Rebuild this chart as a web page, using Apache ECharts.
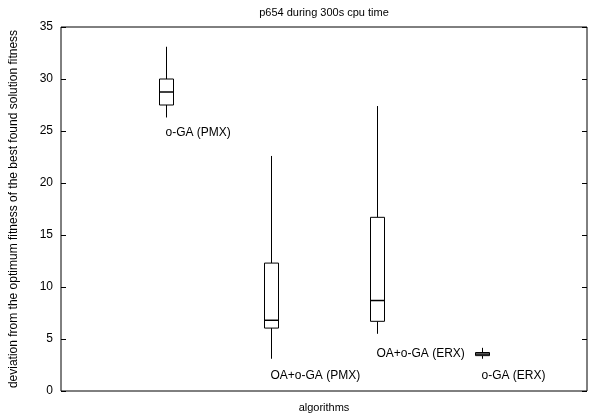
<!DOCTYPE html>
<html>
<head>
<meta charset="utf-8">
<script src="https://cdn.jsdelivr.net/npm/echarts@6/dist/echarts.min.js"></script>
<style>
html,body{margin:0;padding:0;background:#fff;}
#main{width:589px;height:418px;}
</style>
</head>
<body>
<div id="main"></div>
<script>
// algorithms and their box statistics
var names = ['o-GA (PMX)', 'OA+o-GA (PMX)', 'OA+o-GA (ERX)', 'o-GA (ERX)'];
var xpos = [1, 2, 3, 4];
var lowV = [26.3, 3.1, 5.5, 3.1];
var q1V = [27.5, 6.05, 6.7, 3.4];
var medV = [28.75, 6.8, 8.7, 3.55];
var q3V = [30.0, 12.3, 16.7, 3.7];
var highV = [33.1, 22.6, 27.4, 4.15];
// label anchors (data units)
var labelY = [24.85, 1.5, 3.55, 1.45];
var yTicks = [0, 5, 10, 15, 20, 25, 30, 35];

var font = 'Liberation Sans, Arial, sans-serif';
var boxData = [];
for (var i = 0; i < names.length; i++) {
	boxData.push([xpos[i], lowV[i], q1V[i], medV[i], q3V[i], highV[i], labelY[i]]);
}

function renderBox(params, api) {
	var x = api.value(0);
	var pLow = api.coord([x, api.value(1)]);
	var pQ1 = api.coord([x, api.value(2)]);
	var pMed = api.coord([x, api.value(3)]);
	var pQ3 = api.coord([x, api.value(4)]);
	var pHigh = api.coord([x, api.value(5)]);
	var pLab = api.coord([x, api.value(6)]);
	var hw = 7;
	var cx = Math.round(pLow[0]) + 0.5;
	var st = {stroke: '#000', lineWidth: 1, fill: null};
	return {
		type: 'group',
		children: [
			{type: 'line', shape: {x1: cx, y1: pHigh[1], x2: cx, y2: pQ3[1]}, style: st},
			{type: 'line', shape: {x1: cx, y1: pQ1[1], x2: cx, y2: pLow[1]}, style: st},
			{type: 'rect', shape: {x: cx - hw, y: pQ3[1], width: hw * 2, height: pQ1[1] - pQ3[1]}, style: {stroke: '#000', lineWidth: 1, fill: '#fff'}},
			{type: 'line', shape: {x1: cx - hw, y1: pMed[1], x2: cx + hw, y2: pMed[1]}, style: {stroke: '#000', lineWidth: 1.5}},
			{type: 'text', x: cx - 1, y: pLab[1], style: {text: names[params.dataIndex], fill: '#000', font: '12px ' + font, align: 'left', verticalAlign: 'middle'}}
		]
	};
}

var myChart = echarts.init(document.getElementById('main'));
var option = {
	animation: false,
	title: {
		text: 'p654 during 300s cpu time',
		left: 319, textAlign: 'center', top: 2,
		textStyle: {fontSize: 11, fontWeight: 'normal', color: '#000', fontFamily: font}
	},
	grid: {left: 59, right: 2, top: 27, bottom: 22, show: true, borderColor: '#000', borderWidth: 1},
	xAxis: {
		type: 'value', min: 0, max: 5,
		name: 'algorithms', nameLocation: 'middle', nameGap: 11,
		nameTextStyle: {fontSize: 11, color: '#000', fontFamily: font},
		axisLine: {show: false}, axisTick: {show: false}, axisLabel: {show: false}, splitLine: {show: false}
	},
	yAxis: [{
		type: 'value', min: 0, max: 35, interval: 5,
		name: 'deviation from the optimum fitness of the best found solution fitness',
		nameLocation: 'middle', nameGap: 41,
		nameTextStyle: {fontSize: 12, color: '#000', fontFamily: font},
		axisLine: {show: false},
		axisTick: {show: true, inside: true, length: 5, lineStyle: {color: '#000'}},
		axisLabel: {fontSize: 12, color: '#000', fontFamily: font, margin: 8,
			formatter: function (v) { return yTicks.indexOf(v) >= 0 ? String(v) : ''; }},
		splitLine: {show: false}
	}, {
		type: 'value', min: 0, max: 35, interval: 5, position: 'right',
		axisLine: {show: false},
		axisTick: {show: true, inside: true, length: 5, lineStyle: {color: '#000'}},
		axisLabel: {show: false}, splitLine: {show: false}
	}],
	series: [{
		type: 'custom',
		renderItem: renderBox,
		data: boxData,
		encode: {x: 0, y: [1, 2, 3, 4, 5]},
		clip: false
	}]
};
myChart.setOption(option);
</script>
</body>
</html>
